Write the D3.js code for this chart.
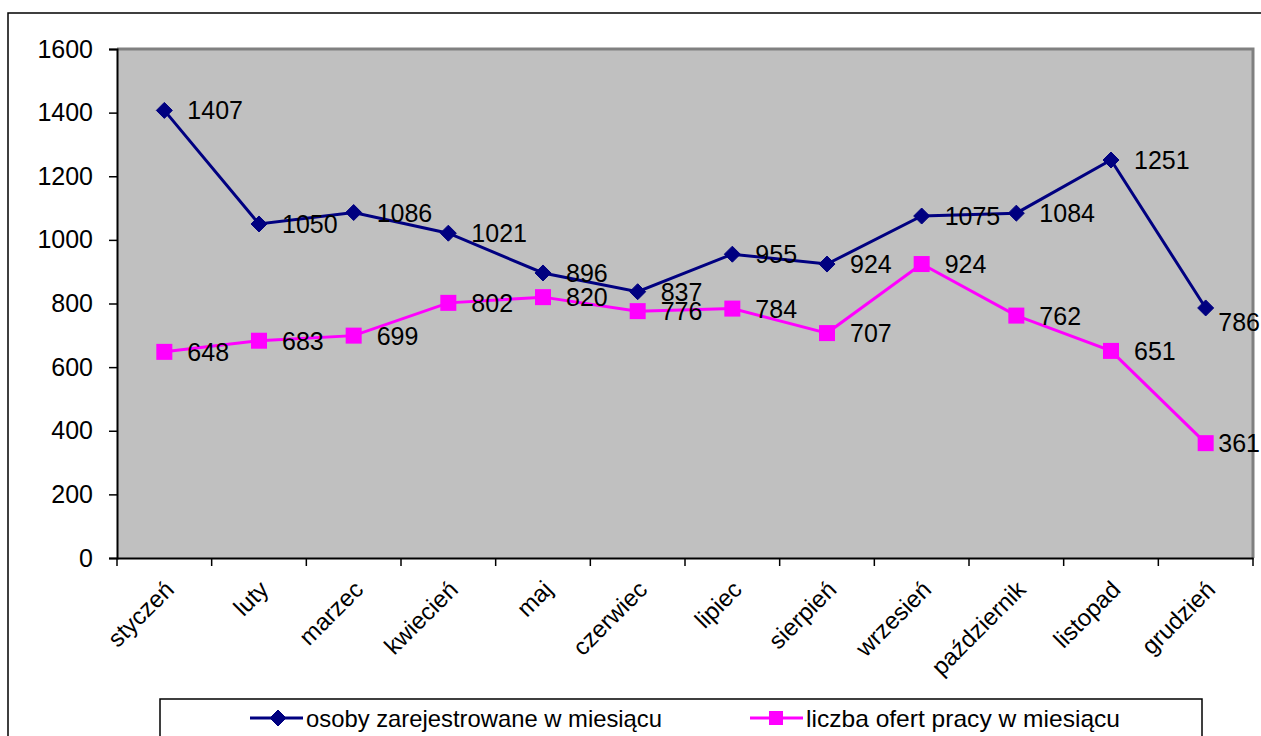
<!DOCTYPE html>
<html>
<head>
<meta charset="utf-8">
<script src="https://cdn.jsdelivr.net/npm/d3@7"></script>
<style>
  body { margin: 0; background: #fff; }
  text { font-family: "Liberation Sans", Arial, sans-serif; }
</style>
</head>
<body>
<div id="app"></div>
<script>
const months = ['styczeń', 'luty', 'marzec', 'kwiecień', 'maj', 'czerwiec', 'lipiec', 'sierpień', 'wrzesień', 'październik', 'listopad', 'grudzień'];
const registered = [1407, 1050, 1086, 1021, 896, 837, 955, 924, 1075, 1084, 1251, 786];
const offers = [648, 683, 699, 802, 820, 776, 784, 707, 924, 762, 651, 361];
const yTicks = [0, 200, 400, 600, 800, 1000, 1200, 1400, 1600];
const seriesNames = ['osoby zarejestrowane w miesiącu', 'liczba ofert pracy w miesiącu'];

let width = 1261, height = 736;
let svg = d3.select('#app').append('svg').attr('width', width).attr('height', height);

// outer chart border (runs off the right and bottom of the picture)
svg.append('rect')
    .attr('x', 8).attr('y', 13).attr('width', 1300).attr('height', 800)
    .attr('fill', 'white').attr('stroke', 'black').attr('stroke-width', 1.5);

const pLeft = 117, pRight = 1253, pTop = 49, pBottom = 558;

let x = d3.scaleBand().domain(months).range([pLeft, pRight]);
let y = d3.scaleLinear().domain([0, 1600]).range([pBottom, pTop]);

// plot area
svg.append('rect')
    .attr('x', pLeft).attr('y', pTop).attr('width', pRight - pLeft).attr('height', pBottom - pTop)
    .attr('fill', '#c0c0c0');
svg.append('path')
    .attr('d', `M${pLeft},${pTop} L${pRight},${pTop} L${pRight},${pBottom}`)
    .attr('fill', 'none').attr('stroke', '#808080').attr('stroke-width', 3);

// y axis
let yAxis = svg.append('g').attr('transform', `translate(${pLeft},0)`)
    .call(d3.axisLeft(y).tickValues(yTicks).tickSize(8).tickPadding(16).tickFormat(d3.format('d')));
yAxis.select('.domain').attr('stroke', 'black').attr('stroke-width', 2);
yAxis.selectAll('.tick line').attr('stroke', 'black').attr('stroke-width', 1.5);
yAxis.selectAll('.tick text').attr('font-size', 25).attr('fill', 'black')
    .attr('font-family', '"Liberation Sans", Arial, sans-serif');

// x axis
let xAxis = svg.append('g').attr('transform', `translate(0,${pBottom})`)
    .call(d3.axisBottom(x).tickSize(0).tickFormat(''));
xAxis.select('.domain').attr('stroke', 'black').attr('stroke-width', 2);
xAxis.selectAll('.tick').remove();
svg.selectAll('.xtick').data(months.concat(['end']))
    .enter().append('line').classed('xtick', true)
    .attr('x1', (d, i) => pLeft + i * x.step()).attr('x2', (d, i) => pLeft + i * x.step())
    .attr('y1', pBottom).attr('y2', pBottom + 8)
    .attr('stroke', 'black').attr('stroke-width', 1.5);

svg.selectAll('.xlabel').data(months)
    .enter().append('text').classed('xlabel', true)
    .attr('transform', d => `translate(${x(d) + x.bandwidth() / 2 + 11},${pBottom + 33}) rotate(-45)`)
    .attr('text-anchor', 'end')
    .attr('font-size', 24)
    .text(d => d);

const cx = (d, i) => x(months[i]) + x.bandwidth() / 2;

const series = [
    { name: seriesNames[0], values: registered, color: '#000080', marker: 'diamond' },
    { name: seriesNames[1], values: offers, color: '#ff00ff', marker: 'square' }
];

function drawMarker(g, s, px, py) {
    if (s.marker === 'diamond') {
        g.append('path')
            .attr('d', `M${px},${py - 8} L${px + 8},${py} L${px},${py + 8} L${px - 8},${py} Z`)
            .attr('fill', s.color).attr('stroke', s.color).attr('stroke-width', 1);
    } else {
        g.append('rect')
            .attr('x', px - 8).attr('y', py - 8).attr('width', 16).attr('height', 16)
            .attr('fill', s.color);
    }
}

let line = d3.line().x(cx).y(d => y(d));

series.forEach(s => {
    svg.append('path').datum(s.values)
        .attr('d', line)
        .attr('fill', 'none').attr('stroke', s.color).attr('stroke-width', 3);
    let mg = svg.append('g');
    s.values.forEach((v, i) => drawMarker(mg, s, cx(v, i), y(v)));
});

// data labels: right of the point, pulled back in when they would run off the picture
series.forEach((s, si) => {
    svg.selectAll(null).data(s.values)
        .enter().append('text')
        .attr('font-size', 25)
        .attr('fill', 'black')
        .attr('dy', '0.36em')
        .text(d => d)
        .each(function (d, i) {
            let t = d3.select(this);
            let w = this.getComputedTextLength();
            let lx = cx(d, i) + 23, ly = y(d);
            if (lx + w > width - 1) {
                lx = width - 1 - w;
                if (si === 0) ly += 14;
            }
            t.attr('x', lx).attr('y', ly);
        });
});

// legend
svg.append('rect')
    .attr('x', 160).attr('y', 699).attr('width', 1042).attr('height', 60)
    .attr('fill', 'white').attr('stroke', 'black').attr('stroke-width', 1.5);

const legendX = [250, 750];
const legendW = [356, 314];
series.forEach((s, i) => {
    let lg = svg.append('g');
    lg.append('line')
        .attr('x1', legendX[i]).attr('x2', legendX[i] + 53)
        .attr('y1', 718).attr('y2', 718)
        .attr('stroke', s.color).attr('stroke-width', 3);
    if (s.marker === 'diamond') drawMarker(lg, { marker: 'diamond', color: s.color }, legendX[i] + 28, 718);
    else {
        lg.append('rect').attr('x', legendX[i] + 19).attr('y', 711).attr('width', 14).attr('height', 14).attr('fill', s.color);
    }
    lg.append('text')
        .attr('x', legendX[i] + 56).attr('y', 727)
        .attr('font-size', 24)
        .attr('textLength', legendW[i]).attr('lengthAdjust', 'spacingAndGlyphs')
        .text(s.name);
});
</script>
</body>
</html>
